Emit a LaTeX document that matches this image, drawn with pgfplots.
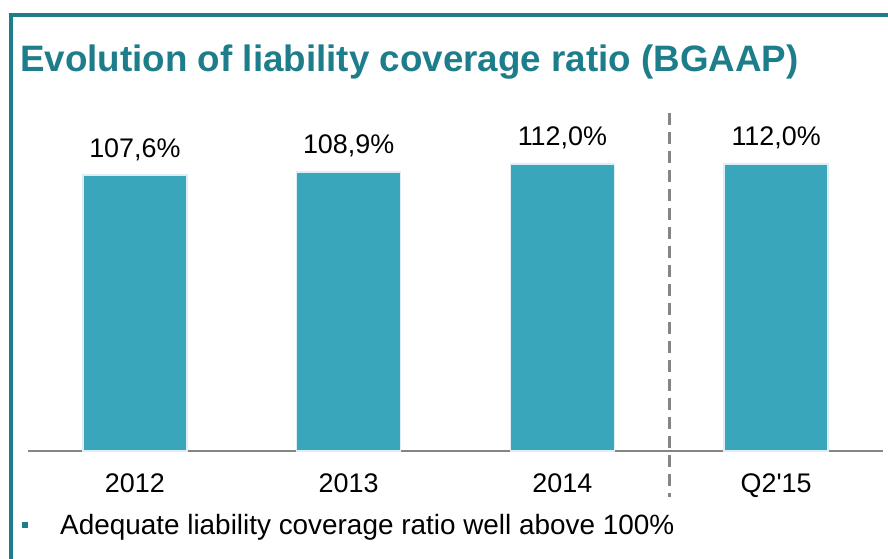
\documentclass[border=0pt]{standalone}
\usepackage{fontspec}
\setmainfont{Liberation Sans}
\usepackage{pgfplots}
\pgfplotsset{compat=1.18}
\definecolor{teal1}{HTML}{1E7D8A}
\definecolor{barc}{HTML}{3AA6BC}
\definecolor{baredge}{HTML}{DDEFF3}
\definecolor{axgray}{HTML}{858585}
\begin{document}
\begin{tikzpicture}[x=1bp,y=1bp]
\path[use as bounding box] (0,0) rectangle (888,559);
\draw[teal1,line width=4bp] (9,544) -- (888,544);
\draw[teal1,line width=4bp] (11,546) -- (11,0);
\node[anchor=base west,inner sep=0pt,text=teal1,font=\fontsize{36.9}{40}\selectfont\bfseries] at (20,487) {Evolution of liability coverage ratio (BGAAP)};
\begin{axis}[
  at={(28bp,108bp)}, anchor=south west,
  scale only axis, width=855bp, height=341bp,
  xmin=-0.5, xmax=3.5, ymin=0, ymax=133,
  axis x line*=bottom, axis y line=none,
  x axis line style={axgray,line width=2bp},
  xtick={0,1,2,3},
  xticklabels={2012,2013,2014,Q2\textquotesingle 15},
  major tick length=0pt,
  xticklabel style={font=\fontsize{27}{30}\selectfont,anchor=base,yshift=-42bp,inner sep=0pt},
  ybar, bar width=104bp,
  clip=false,
  point meta=explicit symbolic,
  nodes near coords,
  every node near coord/.append style={font=\fontsize{27}{30}\selectfont,anchor=base,yshift=18bp,inner sep=0pt,text=black},
]
\addplot[fill=barc,draw=baredge,line width=1.5bp] coordinates {
  (0,107.6) [107,6\%]
  (1,108.9) [108,9\%]
  (2,112.0) [112,0\%]
  (3,112.0) [112,0\%]
};
\draw[axgray,line width=2.5bp,dash pattern=on 12bp off 7bp] (axis cs:2.5,132) -- (axis cs:2.5,-17.9);
\end{axis}
\fill[teal1] (22,31) rectangle (28,37);
\node[anchor=base west,inner sep=0pt,font=\fontsize{28}{32}\selectfont] at (60,24) {Adequate liability coverage ratio well above 100\%};
\end{tikzpicture}
\end{document}
